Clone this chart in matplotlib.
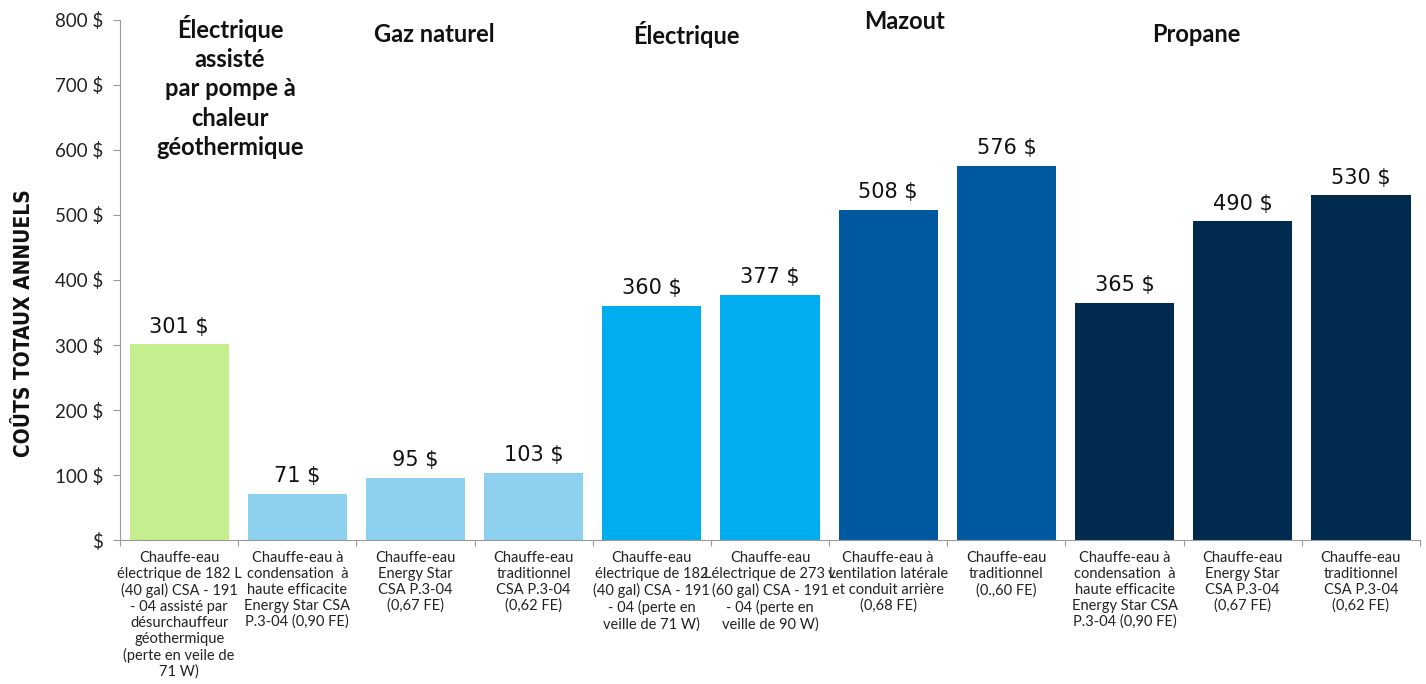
import matplotlib.pyplot as plt
import numpy as np

plt.rcParams["font.family"] = ["Lato", "DejaVu Sans"]

categories = [
    "Chauffe-eau\nélectrique de 182 L\n(40 gal) CSA - 191\n- 04 assisté par\ndésurchauffeur\ngéothermique\n(perte en veile de\n71 W)",
    "Chauffe-eau à\ncondensation  à\nhaute efficacite\nEnergy Star CSA\nP.3-04 (0,90 FE)",
    "Chauffe-eau\nEnergy Star\nCSA P.3-04\n(0,67 FE)",
    "Chauffe-eau\ntraditionnel\nCSA P.3-04\n(0,62 FE)",
    "Chauffe-eau\nélectrique de 182\n(40 gal) CSA - 191\n- 04 (perte en\nveille de 71 W)",
    "Chauffe-eau\nLélectrique de 273 L\n(60 gal) CSA - 191\n- 04 (perte en\nveille de 90 W)",
    "Chauffe-eau à\nventilation latérale\net conduit arrière\n(0,68 FE)",
    "Chauffe-eau\ntraditionnel\n(0.,60 FE)",
    "Chauffe-eau à\ncondensation  à\nhaute efficacite\nEnergy Star CSA\nP.3-04 (0,90 FE)",
    "Chauffe-eau\nEnergy Star\nCSA P.3-04\n(0,67 FE)",
    "Chauffe-eau\ntraditionnel\nCSA P.3-04\n(0,62 FE)",
]
costs = [301, 71, 95, 103, 360, 377, 508, 576, 365, 490, 530]
colors = ["#C5EF8F", "#8ED1EE", "#8ED1EE", "#8ED1EE", "#00AEEF", "#00AEEF",
          "#0059A0", "#0059A0", "#002A4E", "#002A4E", "#002A4E"]

groups = ["Électrique\nassisté\npar pompe à\nchaleur\ngéothermique",
          "Gaz naturel", "Électrique", "Mazout", "Propane"]
group_x = [0.43, 2.16, 4.29, 6.14, 8.61]
group_y = [808, 777, 777, 797, 777]
group_va = ["top", "center", "center", "center", "center"]

yticks = [0, 100, 200, 300, 400, 500, 600, 700, 800]
ytick_labels = ["$"] + [f"{v} $" for v in yticks[1:]]

fig = plt.figure(figsize=(14.26, 6.84), dpi=100)
ax = fig.add_axes([0.0842, 0.2105, 0.9116, 0.7603])

x = np.arange(len(costs))
ax.bar(x, costs, width=0.84, color=colors)

for xi, v in zip(x, costs):
    ax.text(xi, v + 12, f"{v} $", ha="center", va="bottom", fontsize=15,
            family="DejaVu Sans", color="#111111")

for label, gx, gy, va in zip(groups, group_x, group_y, group_va):
    ax.text(gx, gy, label, ha="center", va=va, fontsize=17, fontweight="bold",
            color="#111111", linespacing=1.33)

ax.set_xlim(-0.5, 10.5)
ax.set_ylim(0, 800)
ax.set_yticks(yticks)
ax.set_yticklabels(ytick_labels, fontsize=13.5, color="#222222")
ax.set_xticks(np.arange(-0.5, 11, 1), minor=False)
ax.set_xticklabels([])
ax.set_xticks(x, minor=True)
ax.set_xticklabels(categories, minor=True, fontsize=10.5, color="#222222",
                   linespacing=1.17)
ax.tick_params(axis="x", which="minor", length=0, pad=8)
ax.tick_params(axis="x", which="major", length=4, color="#999999", direction="out")
ax.tick_params(axis="y", length=5, color="#999999", pad=7)

for side in ["top", "right"]:
    ax.spines[side].set_visible(False)
ax.spines["left"].set_color("#999999")
ax.spines["bottom"].set_color("#999999")

ax.set_ylabel("COÛTS TOTAUX ANNUELS", fontsize=15, fontweight="heavy",
              family="DejaVu Sans", fontstretch="condensed", color="#111111")
ax.yaxis.set_label_coords(-0.066, 0.418)

fig.savefig("out.png", dpi=100)
